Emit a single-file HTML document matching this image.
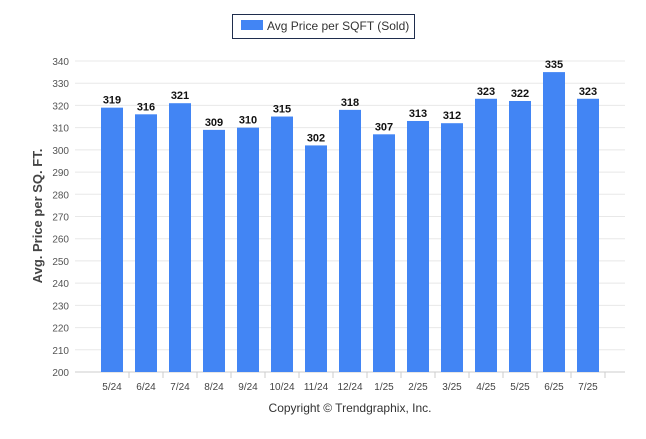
<!DOCTYPE html>
<html><head><meta charset="utf-8"><style>
body{margin:0;background:#fff;font-family:"Liberation Sans",sans-serif}
</style></head><body>
<svg width="646" height="434" id="c" xmlns="http://www.w3.org/2000/svg">
<g>
<rect x="232.5" y="14.5" width="182" height="24" fill="#fff" stroke="#1f2d4d" stroke-width="1"/>
<rect x="241" y="20" width="22" height="10" fill="#4285f4"/>
<text x="267" y="30" font-size="12" fill="#333">Avg Price per SQFT (Sold)</text>
</g>
<text transform="translate(42,216) rotate(-90)" text-anchor="middle" font-size="13" font-weight="bold" fill="#444">Avg. Price per SQ. FT.</text>
<text x="350" y="412" text-anchor="middle" font-size="12" fill="#333">Copyright © Trendgraphix, Inc.</text>
</svg>
<script>
const categories=["5/24","6/24","7/24","8/24","9/24","10/24","11/24","12/24","1/25","2/25","3/25","4/25","5/25","6/25","7/25"];
const values=[319,316,321,309,310,315,302,318,307,313,312,323,322,335,323];
const yTicks=[200,210,220,230,240,250,260,270,280,290,300,310,320,330,340];
const svg=document.getElementById('c');const NS="http://www.w3.org/2000/svg";
const y=v=>372-(v-200)*(311/140);
const x=i=>112+i*34;
function mk(t,a){const e=document.createElementNS(NS,t);for(const k in a)e.setAttribute(k,a[k]);svg.appendChild(e);return e;}
yTicks.forEach(t=>{
 const g=mk('line',{x1:75,x2:625,y1:y(t),y2:y(t),stroke:t===200?'#ccc':'#e8e8e8'});
 
 
 const l=mk('text',{x:69,y:y(t)+4,'text-anchor':'end','font-size':'10',fill:'#555'});l.textContent=t;
 
 
});
categories.forEach((c,i)=>{
 const b=mk('rect',{x:x(i)-11,y:y(values[i]),width:22,height:y(200)-y(values[i]),fill:'#4285f4'});
 
 
 const v=mk('text',{x:x(i),y:y(values[i])-4,'text-anchor':'middle','font-size':'11','font-weight':'bold',fill:'#111'});v.textContent=values[i];
 
 
 const tk=mk('line',{x1:x(i)+17,x2:x(i)+17,y1:372,y2:378,stroke:'#ccc'});
 
 
 const l=mk('text',{x:x(i),y:390,'text-anchor':'middle','font-size':'10',fill:'#444'});l.textContent=c;
 
 
});
</script>
</body></html>
